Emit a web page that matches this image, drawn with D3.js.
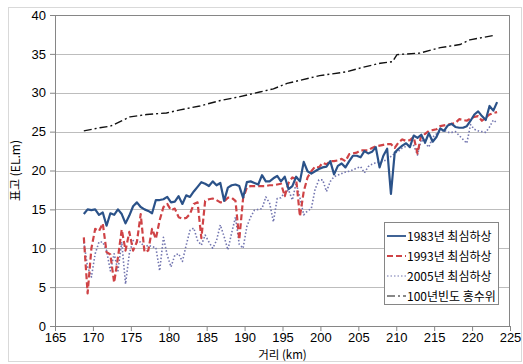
<!DOCTYPE html>
<html>
<head>
<meta charset="utf-8">
<script src="https://cdn.jsdelivr.net/npm/d3@7"></script>
<style>
  body { margin: 0; background: #fff; }
  .tick text { font-family: "Liberation Sans", Arial, sans-serif; font-size: 13px; fill: #000; }
  .kr { font-family: "Noto Sans CJK KR", sans-serif; fill: #000; }
</style>
</head>
<body>
<script>

// distances (km) of the surveyed cross sections
let stations = [168.8, 169.3, 169.8, 170.3, 170.8, 171.3, 171.8, 172.3, 172.8, 173.3,
  173.8, 174.3, 174.8, 175.3, 175.8, 176.3, 176.8, 177.3, 177.8, 178.3,
  178.8, 179.3, 179.8, 180.3, 180.8, 181.3, 181.8, 182.3, 182.8, 183.3,
  183.8, 184.3, 184.8, 185.3, 185.8, 186.3, 186.8, 187.3, 187.8, 188.3,
  188.8, 189.3, 189.8, 190.3, 190.8, 191.3, 191.8, 192.3, 192.8, 193.3,
  193.8, 194.3, 194.8, 195.3, 195.8, 196.3, 196.8, 197.3, 197.8, 198.3,
  198.8, 199.3, 199.8, 200.3, 200.8, 201.3, 201.8, 202.3, 202.8, 203.3,
  203.8, 204.3, 204.8, 205.3, 205.8, 206.3, 206.8, 207.3, 207.8, 208.3,
  208.8, 209.3, 209.8, 210.3, 210.8, 211.3, 211.8, 212.3, 212.8, 213.3,
  213.8, 214.3, 214.8, 215.3, 215.8, 216.3, 216.8, 217.3, 217.8, 218.3,
  218.8, 219.3, 219.8, 220.3, 220.8, 221.3, 221.8, 222.3, 222.8, 223.3];

let bed1983 = [14.4, 15.0, 14.9, 15.0, 14.3, 14.6, 12.9, 14.5, 14.3, 15.0,
  14.4, 13.2, 14.2, 15.4, 15.9, 15.3, 15.0, 14.8, 14.5, 16.2,
  16.2, 16.3, 16.6, 15.9, 16.0, 16.7, 15.7, 16.8, 16.6, 17.3,
  17.9, 18.5, 18.3, 18.0, 18.6, 18.1, 18.4, 16.1, 17.8, 18.1,
  18.2, 18.0, 16.5, 18.5, 18.6, 18.4, 18.2, 19.4, 18.6, 18.6,
  19.0, 19.3, 18.6, 19.2, 17.6, 18.0, 19.2, 18.6, 21.1, 19.9,
  19.6, 19.9, 20.2, 20.4, 20.5, 21.2, 19.5, 20.6, 20.9, 20.4,
  21.2, 21.9, 21.9, 21.7, 22.5, 22.2, 22.4, 23.0, 20.4, 21.9,
  22.8, 17.0, 22.3, 22.8, 23.2, 23.5, 23.0, 24.5, 24.2, 24.6,
  23.6, 24.8, 23.7, 24.3, 25.4, 25.1, 25.8, 26.0, 25.6, 25.5,
  25.5, 25.7, 26.4, 27.2, 27.6, 27.0, 26.5, 28.3, 27.7, 28.8];

let bed1993 = [11.4, 4.2, 10.0, 12.5, 12.2, 13.2, 9.5, 9.2, 5.6, 8.8,
  12.4, 9.7, 12.1, 9.7, 10.8, 14.4, 9.5, 9.7, 12.5, 11.2,
  13.6, 15.3, 15.7, 14.9, 15.1, 14.0, 13.8, 13.9, 14.4, 15.7,
  15.9, 11.3, 16.1, 16.3, 16.4, 16.2, 15.9, 16.0, 16.5, 16.5,
  16.1, 11.1, 16.4, 17.8, 18.0, 18.0, 18.0, 18.0, 18.0, 18.1,
  18.1, 18.2, 18.3, 16.7, 18.4, 19.1, 18.9, 14.1, 17.3, 19.1,
  19.9, 20.5, 20.4, 21.0, 20.8, 21.2, 21.2, 21.3, 21.5, 21.2,
  22.1, 22.2, 22.3, 22.6, 22.6, 22.6, 22.9, 23.1, 23.2, 23.3,
  23.4, 23.4, 22.9, 23.6, 24.0, 23.8, 23.9, 24.3, 22.2, 24.6,
  24.7, 25.1, 25.2, 25.3, 25.7, 25.8, 25.9, 26.0, 26.1, 26.6,
  26.5, 26.4, 26.7, 26.9, 27.0, 26.4, 26.8, 27.2, 27.4, 27.5];

let bed2005 = [10.8, 7.6, 6.3, 9.3, 10.8, 10.8, 9.7, 7.1, 9.3, 7.1,
  10.8, 5.4, 9.3, 11.0, 10.8, 10.8, 10.1, 10.4, 10.2, 10.1,
  7.1, 11.4, 9.1, 7.6, 9.1, 9.3, 8.3, 10.4, 12.3, 12.6,
  11.0, 10.4, 11.7, 10.8, 10.0, 11.0, 13.0, 11.5, 9.8, 12.0,
  14.0, 10.5, 10.0, 12.8, 14.0, 14.9, 15.0, 15.1, 16.6, 15.8,
  13.4, 16.4, 16.5, 17.2, 17.5, 16.2, 18.4, 16.5, 14.3, 14.8,
  15.1, 17.6, 18.8, 18.8, 17.3, 18.6, 19.2, 19.4, 19.6, 19.8,
  19.9, 20.1, 20.3, 20.5, 19.7, 20.5, 20.8, 21.0, 21.1, 21.2,
  21.4, 21.8, 22.2, 22.5, 22.9, 23.1, 23.5, 23.2, 22.0, 24.0,
  23.5, 23.0, 24.3, 24.7, 25.0, 25.2, 24.9, 24.9, 25.0, 24.5,
  24.0, 23.5, 25.9, 25.3, 25.1, 25.0, 24.9, 25.6, 26.5, 26.1];

// 100-year flood level
let floodKm = [168.8, 170.9, 172.3, 174.9, 177.1, 179.7, 181.5, 184.1, 186.8, 189.4,
  192.0, 193.8, 195.6, 197.3, 199.9, 203.5, 205.7, 207.9, 209.5, 210.1,
  213.1, 215.8, 218.4, 219.7, 223.0];
let floodLevel = [25.1, 25.5, 25.7, 26.9, 27.2, 27.4, 27.8, 28.3, 29.0, 29.5,
  30.1, 30.5, 31.2, 31.6, 32.2, 32.7, 33.3, 33.8, 34.0, 34.9,
  35.1, 35.8, 36.2, 36.8, 37.4];

let xTicks = [165, 170, 175, 180, 185, 190, 195, 200, 205, 210, 215, 220, 225];
let yTicks = [0, 5, 10, 15, 20, 25, 30, 35, 40];

let seriesNames = ['1983년 최심하상', '1993년 최심하상', '2005년 최심하상', '100년빈도 홍수위'];

let W = 523, H = 364;
let margin = {top: 15, right: 13, bottom: 38, left: 55};
let width = W - margin.left - margin.right;
let height = H - margin.top - margin.bottom;

let xScale = d3.scaleLinear()
    .domain([165, 225])
    .range([0, width]);

let yScale = d3.scaleLinear()
    .domain([0, 40])
    .range([height, 0]);

let svg = d3.select('body').append('svg')
    .attr('width', W)
    .attr('height', H);

// outer chart frame
svg.append('rect')
    .attr('x', 8.5).attr('y', 7.5)
    .attr('width', W - 10).attr('height', H - 10)
    .attr('fill', 'none')
    .attr('stroke', '#d9d9d9');

let g = svg.append('g')
    .attr('transform', 'translate(' + margin.left + ',' + margin.top + ')');

// gridlines
g.selectAll('.grid')
    .data(yTicks.slice(1))
  .enter().append('line')
    .attr('class', 'grid')
    .attr('x1', 0).attr('x2', width)
    .attr('y1', d => Math.round(yScale(d)) + 0.5)
    .attr('y2', d => Math.round(yScale(d)) + 0.5)
    .attr('stroke', '#bdbdbd');

// plot area border (top and right)
g.append('path')
    .attr('d', 'M0,0.5H' + (width - 0.5) + 'V' + height)
    .attr('fill', 'none')
    .attr('stroke', '#868686');

let xAxis = d3.axisBottom(xScale)
    .tickValues(xTicks)
    .tickSize(5)
    .tickSizeOuter(0)
    .tickPadding(2);

let yAxis = d3.axisLeft(yScale)
    .tickValues(yTicks)
    .tickSize(5)
    .tickSizeOuter(0)
    .tickPadding(4);

g.append('g')
    .attr('class', 'x axis')
    .attr('transform', 'translate(0,' + height + ')')
    .call(xAxis);

g.append('g')
    .attr('class', 'y axis')
    .call(yAxis);

g.selectAll('.axis path, .axis line').attr('stroke', '#868686');

let line = d3.line()
    .x(d => xScale(d[0]))
    .y(d => yScale(d[1]));

let styles = [
  {color: '#2b5289', w: 2.2, dash: null},
  {color: '#cf4346', w: 2.2, dash: '6,3'},
  {color: '#7376b0', w: 1.6, dash: '1.5,2'},
  {color: '#111111', w: 1.4, dash: '8,3,2,3'}
];

let seriesData = [
  d3.zip(stations, bed2005),
  d3.zip(stations, bed1993),
  d3.zip(stations, bed1983),
  d3.zip(floodKm, floodLevel)
];
let drawOrder = [2, 1, 0, 3];

seriesData.forEach(function(d, i) {
  let s = styles[drawOrder[i]];
  g.append('path')
      .datum(d)
      .attr('fill', 'none')
      .attr('stroke', s.color)
      .attr('stroke-width', s.w)
      .attr('stroke-dasharray', s.dash)
      .attr('stroke-linejoin', 'round')
      .attr('d', line);
});

// axis titles
svg.append('text')
    .attr('class', 'kr')
    .attr('transform', 'translate(20,' + (margin.top + height / 2) + ') rotate(-90)')
    .attr('text-anchor', 'middle')
    .attr('font-size', 12)
    .text('표고 (EL.m)');

svg.append('text')
    .attr('class', 'kr')
    .attr('x', margin.left + width / 2)
    .attr('y', 359)
    .attr('text-anchor', 'middle')
    .attr('font-size', 11.5)
    .text('거리 (km)');

// legend
let legend = svg.append('g')
    .attr('transform', 'translate(384,222)');

legend.append('rect')
    .attr('x', 0.5).attr('y', 0.5)
    .attr('width', 114).attr('height', 82)
    .attr('fill', '#fff')
    .attr('stroke', '#868686');

let items = legend.selectAll('.item')
    .data(seriesNames)
  .enter().append('g')
    .attr('class', 'item')
    .attr('transform', (d, i) => 'translate(0,' + (14 + i * 20) + ')');

items.append('line')
    .attr('x1', 3).attr('x2', 22)
    .attr('y1', 0).attr('y2', 0)
    .attr('stroke', (d, i) => styles[i].color)
    .attr('stroke-width', (d, i) => styles[i].w - 0.4)
    .attr('stroke-dasharray', (d, i) => styles[i].dash);

items.append('text')
    .attr('class', 'kr')
    .attr('x', 23)
    .attr('y', 4.5)
    .attr('font-size', 12)
    .text(d => d);

</script>
</body>
</html>
